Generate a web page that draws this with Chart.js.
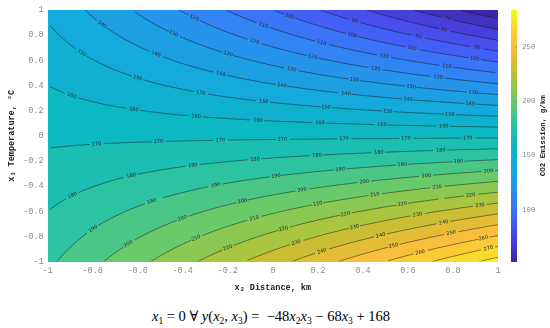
<!DOCTYPE html>
<html>
<head>
<meta charset="utf-8">
<title>CO2 emission contour</title>
<script src="https://cdn.jsdelivr.net/npm/chart.js@4.4.1/dist/chart.umd.min.js"></script>
<style>
  html, body { margin: 0; padding: 0; background: #fff; }
  #wrap { position: relative; width: 550px; height: 328px; overflow: hidden; }
  #chart { position: absolute; left: 0; top: 0; }
  #eq {
    position: absolute; left: 0; top: 308px; width: 542px;
    text-align: center; white-space: nowrap;
    font-family: 'Liberation Serif', 'DejaVu Serif', serif; font-size: 14.5px; color: #000;
  }
  #eq sub { font-size: 9.5px; vertical-align: -3px; line-height: 0; }
</style>
</head>
<body>
<div id="wrap">
  <canvas id="chart" width="550" height="296" style="width:550px;height:296px"></canvas>
  <div id="eq"><i>x</i><sub>1</sub> = 0 ∀ <i>y</i>(<i>x</i><sub>2</sub>, <i>x</i><sub>3</sub>) = &nbsp;−48<i>x</i><sub>2</sub><i>x</i><sub>3</sub> − 68<i>x</i><sub>3</sub> + 168</div>
</div>
<script>
// grid of emission values (g/km)
// columns follow x2Values, rows follow x3Values (top row is x3 = 1)
const x2Values = [-1, -0.8, -0.6, -0.4, -0.2, 0, 0.2, 0.4, 0.6, 0.8, 1];
const x3Values = [1, 0.8, 0.6, 0.4, 0.2, 0, -0.2, -0.4, -0.6, -0.8, -1];
const co2Grid = [
    [148, 138.4, 128.8, 119.2, 109.6, 100, 90.4, 80.8, 71.2, 61.6, 52],
    [152, 144.3, 136.6, 129.0, 121.3, 113.6, 105.9, 98.2, 90.6, 82.9, 75.2],
    [156, 150.2, 144.5, 138.7, 133.0, 127.2, 121.4, 115.7, 109.9, 104.2, 98.4],
    [160, 156.2, 152.3, 148.5, 144.6, 140.8, 137.0, 133.1, 129.3, 125.4, 121.6],
    [164, 162.1, 160.2, 158.2, 156.3, 154.4, 152.5, 150.6, 148.6, 146.7, 144.8],
    [168, 168, 168, 168, 168, 168, 168, 168, 168, 168, 168],
    [172, 173.9, 175.8, 177.8, 179.7, 181.6, 183.5, 185.4, 187.4, 189.3, 191.2],
    [176, 179.8, 183.7, 187.5, 191.4, 195.2, 199.0, 202.9, 206.7, 210.6, 214.4],
    [180, 185.8, 191.5, 197.3, 203.0, 208.8, 214.6, 220.3, 226.1, 231.8, 237.6],
    [184, 191.7, 199.4, 207.0, 214.7, 222.4, 230.1, 237.8, 245.4, 253.1, 260.8],
    [188, 197.6, 207.2, 216.8, 226.4, 236, 245.6, 255.2, 264.8, 274.4, 284]
];
const contourLevels = [60, 70, 80, 90, 100, 110, 120, 130, 140, 150, 160, 170, 180,
    190, 200, 210, 220, 230, 240, 250, 260, 270, 280];
const axisTicks = [-1, -0.8, -0.6, -0.4, -0.2, 0, 0.2, 0.4, 0.6, 0.8, 1];
const colorbarTicks = [100, 150, 200, 250];
const colorRange = [52, 284];

// parula-like colour map stops: [t, r, g, b]
const parulaStops = [
    [0.00, 62, 38, 168], [0.07, 70, 60, 215], [0.143, 72, 86, 245], [0.22, 55, 122, 248],
    [0.30, 36, 150, 234], [0.38, 20, 170, 220], [0.46, 10, 184, 196], [0.55, 42, 195, 163],
    [0.62, 92, 202, 118], [0.70, 152, 200, 70], [0.78, 212, 189, 48], [0.86, 252, 190, 60],
    [0.93, 248, 214, 46], [1.00, 249, 251, 21]
];

const monoFont = "'Liberation Mono', 'DejaVu Sans Mono', monospace";

function parula(t) {
    t = Math.max(0, Math.min(1, t));
    for (let i = 1; i < parulaStops.length; i++) {
        const a = parulaStops[i - 1], b = parulaStops[i];
        if (t <= b[0]) {
            const f = (t - a[0]) / (b[0] - a[0]);
            return [a[1] + (b[1] - a[1]) * f, a[2] + (b[2] - a[2]) * f, a[3] + (b[3] - a[3]) * f];
        }
    }
    const l = parulaStops[parulaStops.length - 1];
    return [l[1], l[2], l[3]];
}

function toT(v) {
    return (v - colorRange[0]) / (colorRange[1] - colorRange[0]);
}

// bilinear lookup in the grid
function emissionAt(x2, x3) {
    let i = 0, j = 0;
    while (i < x2Values.length - 2 && x2 > x2Values[i + 1]) i++;
    while (j < x3Values.length - 2 && x3 < x3Values[j + 1]) j++;
    const fx = (x2 - x2Values[i]) / (x2Values[i + 1] - x2Values[i]);
    const fy = (x3 - x3Values[j]) / (x3Values[j + 1] - x3Values[j]);
    const z00 = co2Grid[j][i], z01 = co2Grid[j][i + 1];
    const z10 = co2Grid[j + 1][i], z11 = co2Grid[j + 1][i + 1];
    return z00 * (1 - fx) * (1 - fy) + z01 * fx * (1 - fy) + z10 * (1 - fx) * fy + z11 * fx * fy;
}

// colour of the filled band that holds value v
function bandColor(v) {
    let base = colorRange[0];
    for (let k = 0; k < contourLevels.length; k++) {
        if (v >= contourLevels[k]) base = contourLevels[k];
    }
    return parula(toT(base));
}

const fmtTick = v => String(Math.round(v * 10) / 10);

const contourPlugin = {
    id: 'contour',
    beforeDatasetsDraw(chart) {
        const ctx = chart.ctx;
        const area = chart.chartArea;
        const xs = chart.scales.x, ys = chart.scales.y;

        // filled bands
        const w = Math.round(area.right - area.left), h = Math.round(area.bottom - area.top);
        const off = document.createElement('canvas');
        off.width = w; off.height = h;
        const octx = off.getContext('2d');
        const img = octx.createImageData(w, h);
        for (let py = 0; py < h; py++) {
            const x3 = ys.getValueForPixel(area.top + py + 0.5);
            for (let px = 0; px < w; px++) {
                const x2 = xs.getValueForPixel(area.left + px + 0.5);
                const c = bandColor(emissionAt(x2, x3));
                const p = (py * w + px) * 4;
                img.data[p] = c[0]; img.data[p + 1] = c[1]; img.data[p + 2] = c[2]; img.data[p + 3] = 255;
            }
        }
        octx.putImageData(img, 0, 0);
        ctx.drawImage(off, area.left, area.top);

        // contour lines by marching squares on a fine grid
        const NX = 160, NY = 100;
        const gx = [], gy = [];
        for (let i = 0; i <= NX; i++) gx.push(-1 + 2 * i / NX);
        for (let j = 0; j <= NY; j++) gy.push(-1 + 2 * j / NY);
        const gz = gy.map(y => gx.map(x => emissionAt(x, y)));

        ctx.save();
        ctx.beginPath();
        ctx.rect(area.left, area.top, area.right - area.left, area.bottom - area.top);
        ctx.clip();

        contourLevels.forEach((lev, li) => {
            const segs = [];
            for (let j = 0; j < NY; j++) {
                for (let i = 0; i < NX; i++) {
                    const corners = [
                        [gx[i], gy[j], gz[j][i]],
                        [gx[i + 1], gy[j], gz[j][i + 1]],
                        [gx[i + 1], gy[j + 1], gz[j + 1][i + 1]],
                        [gx[i], gy[j + 1], gz[j + 1][i]]
                    ];
                    const pts = [];
                    for (let e = 0; e < 4; e++) {
                        const a = corners[e], b = corners[(e + 1) % 4];
                        if ((a[2] - lev) * (b[2] - lev) < 0) {
                            const f = (lev - a[2]) / (b[2] - a[2]);
                            pts.push([xs.getPixelForValue(a[0] + (b[0] - a[0]) * f),
                                      ys.getPixelForValue(a[1] + (b[1] - a[1]) * f)]);
                        }
                    }
                    if (pts.length >= 2) segs.push([pts[0], pts[1]]);
                    if (pts.length === 4) segs.push([pts[2], pts[3]]);
                }
            }
            if (!segs.length) return;
            segs.sort((s1, s2) => (s1[0][0] + s1[1][0]) - (s2[0][0] + s2[1][0]));

            // label spots along the line
            const labels = [];
            const spacing = 62;
            let target = 14 + (li * 23) % 44;
            let run = 0;
            segs.forEach(s => {
                const dx = s[1][0] - s[0][0], dy = s[1][1] - s[0][1];
                const len = Math.hypot(dx, dy);
                while (run + len >= target) {
                    const f = len ? (target - run) / len : 0;
                    const lx = s[0][0] + dx * f, ly = s[0][1] + dy * f;
                    let ang = Math.atan2(dy, dx);
                    if (ang > Math.PI / 2) ang -= Math.PI;
                    if (ang < -Math.PI / 2) ang += Math.PI;
                    if (lx > area.left + 8 && lx < area.right - 8 && ly > area.top + 5 && ly < area.bottom - 5) {
                        labels.push({ x: lx, y: ly, ang: ang });
                    }
                    target += spacing;
                }
                run += len;
            });

            ctx.strokeStyle = 'rgba(20, 20, 20, 0.8)';
            ctx.lineWidth = 0.6;
            ctx.beginPath();
            segs.forEach(s => {
                const mx = (s[0][0] + s[1][0]) / 2, my = (s[0][1] + s[1][1]) / 2;
                if (labels.some(l => Math.hypot(l.x - mx, l.y - my) < 6.5)) return;
                ctx.moveTo(s[0][0], s[0][1]);
                ctx.lineTo(s[1][0], s[1][1]);
            });
            ctx.stroke();

            ctx.fillStyle = '#2a2a2a';
            ctx.font = '5px "DejaVu Sans", sans-serif';
            ctx.textAlign = 'center';
            ctx.textBaseline = 'middle';
            labels.forEach(l => {
                ctx.save();
                ctx.translate(l.x, l.y);
                ctx.rotate(l.ang);
                ctx.fillText(String(lev), 0, 0);
                ctx.restore();
            });
        });
        ctx.restore();
    },
    afterDraw(chart) {
        const ctx = chart.ctx;
        const cb = chart.scales.cb;
        const x0 = chart.chartArea.right + 13, bw = 6;
        ctx.save();
        for (let y = Math.floor(cb.top); y < Math.ceil(cb.bottom); y++) {
            const c = parula(toT(cb.getValueForPixel(y + 0.5)));
            ctx.fillStyle = `rgb(${c[0] | 0}, ${c[1] | 0}, ${c[2] | 0})`;
            ctx.fillRect(x0, y, bw, 1);
        }
        ctx.strokeStyle = 'rgba(60, 60, 60, 0.6)';
        ctx.lineWidth = 0.6;
        colorbarTicks.forEach(v => {
            const y = cb.getPixelForValue(v);
            ctx.beginPath();
            ctx.moveTo(x0 + bw - 1.5, y);
            ctx.lineTo(x0 + bw, y);
            ctx.stroke();
        });
        // colour bar title
        ctx.translate(543, (cb.top + cb.bottom) / 2);
        ctx.rotate(-Math.PI / 2);
        ctx.fillStyle = '#222';
        ctx.font = 'bold 7.5px ' + monoFont;
        ctx.textAlign = 'center';
        ctx.textBaseline = 'middle';
        ctx.fillText('CO2 Emission, g/km', 0, 0);
        ctx.restore();
    }
};

const tickFont = { family: monoFont, size: 8.5 };
const titleFont = { family: monoFont, size: 8.5, weight: 'bold' };
const setTicks = list => scale => { scale.ticks = list.map(v => ({ value: v })); };

new Chart(document.getElementById('chart'), {
    type: 'scatter',
    data: { datasets: [] },
    options: {
        responsive: false,
        animation: false,
        layout: { padding: { left: 2, right: 12, top: 10, bottom: 1 } },
        plugins: { legend: { display: false }, tooltip: { enabled: false } },
        scales: {
            x: {
                type: 'linear', min: -1, max: 1,
                afterBuildTicks: setTicks(axisTicks),
                grid: { display: false, drawTicks: false },
                border: { display: false },
                ticks: { font: tickFont, color: '#8a8a8a', padding: 4, maxRotation: 0, callback: fmtTick },
                title: { display: true, text: 'x₂ Distance, km', font: titleFont, color: '#222', padding: { top: 3, bottom: 2 } }
            },
            y: {
                type: 'linear', min: -1, max: 1,
                afterBuildTicks: setTicks(axisTicks),
                grid: { display: false, drawTicks: false },
                border: { display: false },
                ticks: { font: tickFont, color: '#8a8a8a', padding: 4, callback: fmtTick },
                title: { display: true, text: 'x₃ Temperature, °C', font: titleFont, color: '#222', padding: { top: 5, bottom: 2 } }
            },
            cb: {
                type: 'linear', axis: 'y', position: 'right',
                min: colorRange[0], max: colorRange[1],
                afterBuildTicks: setTicks(colorbarTicks),
                afterFit: s => { s.width = 40; s.paddingTop = 0; s.paddingBottom = 0; },
                grid: { display: false, drawTicks: false },
                border: { display: false },
                ticks: { font: { family: monoFont, size: 7.5 }, color: '#8a8a8a', padding: 24 }
            }
        }
    },
    plugins: [contourPlugin]
});
</script>
</body>
</html>
